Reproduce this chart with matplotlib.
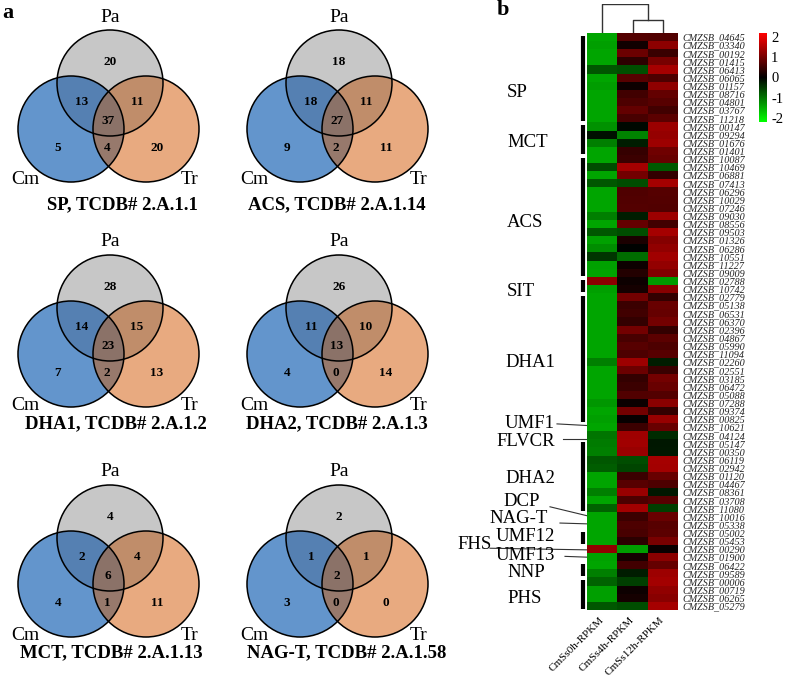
import numpy as np
import matplotlib.pyplot as plt
from matplotlib.colors import LinearSegmentedColormap, to_rgba
from matplotlib.patches import Circle
from matplotlib.transforms import blended_transform_factory

plt.rcParams['font.family'] = ['Liberation Serif', 'DejaVu Serif']
plt.rcParams['axes.unicode_minus'] = False

## panel a : venn counts
venn_titles = ['SP, TCDB# 2.A.1.1', 'ACS, TCDB# 2.A.1.14',
               'DHA1, TCDB# 2.A.1.2', 'DHA2, TCDB# 2.A.1.3',
               'MCT, TCDB# 2.A.1.13', 'NAG-T, TCDB# 2.A.1.58']
# order : Pa only, Cm&Pa, Pa&Tr, all three, Cm only, Cm&Tr, Tr only
venn_counts = [[20, 13, 11, 37, 5, 4, 20],
               [18, 18, 11, 27, 9, 2, 11],
               [28, 14, 15, 23, 7, 2, 13],
               [26, 11, 10, 13, 4, 0, 14],
               [4, 2, 4, 6, 4, 1, 11],
               [2, 1, 1, 2, 3, 0, 0]]
venn_sets = ['Pa', 'Cm', 'Tr']

## panel b : heatmap (row z-scores)
genes = ['04645', '03340', '00192', '01415', '06413', '06065', '01157', '08716',
         '04801', '03767', '11218', '00147', '09294', '01676', '01401', '10087',
         '10469', '06881', '07413', '06296', '10029', '07246', '09030', '08556',
         '09503', '01326', '06286', '10551', '11227', '09009', '02788', '10742',
         '02779', '05138', '06531', '06370', '02396', '04867', '05990', '11094',
         '02260', '02551', '03185', '06472', '05088', '07288', '09374', '00825',
         '10621', '04124', '05147', '00350', '06119', '02942', '01120', '04467',
         '08361', '03708', '11080', '10016', '05338', '05002', '05453', '00290',
         '01900', '06422', '09589', '00006', '00719', '06265', '05279']
gene_labels = ['CMZSB_' + g for g in genes]
rpkm_cols = ['CmSs0h-RPKM', 'CmSs4h-RPKM', 'CmSs12h-RPKM']
z_0h = [-1.41, -1.36, -1.41, -1.41, -0.73, -1.41, -1.35, -1.41, -1.41, -1.41, -1.41,
        -1.25, -0.15, -1.10, -1.41, -1.41, -0.65, -1.41, -0.74, -1.41, -1.41, -1.41,
        -1.10, -1.41, -0.75, -1.39, -1.22, -0.45, -1.38, -1.40, 1.22, -1.36,
        -1.41, -1.41, -1.41, -1.41, -1.41, -1.41, -1.41, -1.41, -1.10, -1.41, -1.41,
        -1.41, -1.41, -1.30, -1.41, -1.36, -1.41, -1.00, -1.05, -1.10, -0.74, -0.80,
        -1.41, -1.41, -1.10, -1.41, -0.85, -1.41, -1.41, -1.41, -1.41, 1.25, -1.38,
        -1.41, -1.10, -0.85, -1.36, -1.36, -0.74]
z_4h = [0.72, 0.15, 0.92, 0.38, -0.68, 0.74, 0.12, 0.56, 0.66, 0.85, 0.62,
        -0.08, -1.13, -0.25, 0.45, 0.50, 1.41, 0.98, -0.67, 0.68, 0.69, 0.72,
        -0.25, 0.86, -0.66, 0.24, -0.02, -0.94, 0.12, 0.30, 0.12, 0.18,
        0.98, 0.50, 0.55, 0.43, 0.98, 0.62, 0.74, 0.67, 1.35, 0.92, 0.43,
        0.50, 0.70, 0.10, 0.98, 0.06, 0.50, 1.37, 1.38, 1.32, -0.67, -0.60,
        0.50, 0.74, 1.32, 0.67, 1.40, 0.50, 0.67, 0.62, 0.37, -1.35, 0.18,
        0.55, -0.25, -0.55, 0.12, 0.18, -0.67]
z_12h = [0.69, 1.21, 0.49, 1.03, 1.41, 0.67, 1.23, 0.85, 0.75, 0.56, 0.79,
         1.33, 1.28, 1.35, 0.96, 0.91, -0.76, 0.43, 1.41, 0.73, 0.72, 0.69,
         1.35, 0.55, 1.41, 1.15, 1.24, 1.39, 1.26, 1.10, -1.34, 1.18,
         0.43, 0.91, 0.86, 0.98, 0.43, 0.79, 0.67, 0.74, -0.25, 0.49, 0.98,
         0.91, 0.71, 1.20, 0.43, 1.30, 0.91, -0.37, -0.20, -0.22, 1.41, 1.40,
         0.91, 0.67, -0.22, 0.74, -0.55, 0.91, 0.74, 0.79, 1.04, 0.10, 1.20,
         0.86, 1.35, 1.40, 1.24, 1.18, 1.41]
# column clustering: (col1, col2) joined first, then col0
link_low = 0.45
link_root = 1.0

bar_groups = ['SP', 'MCT', 'ACS', 'SIT', 'DHA1', 'DHA2', 'UMF12', 'NNP', 'PHS']
bar_first = [0, 11, 15, 30, 32, 50, 61, 65, 67]
bar_last = [10, 14, 29, 31, 47, 58, 62, 66, 70]
single_groups = ['UMF1', 'FLVCR', 'DCP', 'NAG-T', 'FHS', 'UMF13']
single_rows = [48, 49, 59, 60, 63, 64]

W, H = 787, 677
fig = plt.figure(figsize=(W / 100, H / 100), dpi=100)
fig.patch.set_facecolor('white')

# overlay axis in pixel units
ov = fig.add_axes([0, 0, 1, 1])
ov.axis('off')

region_colors = {1: '#c8c8c8', 2: '#6496cc', 4: '#e9aa80',
                 3: '#5580b2', 5: '#c08d6a', 6: '#98796c', 7: '#8b7268'}

def draw_venn(ox, oy, counts, title, tx, ty):
    cx = np.array([110, 71, 146]) + ox      # Pa, Cm, Tr
    cy = np.array([83, 129, 129]) + oy
    r = 53
    step = 0.25
    xs = np.arange(cx.min() - r - 2, cx.max() + r + 2, step)
    ys = np.arange(cy.min() - r - 2, cy.max() + r + 2, step)
    X, Y = np.meshgrid(xs + step / 2, ys + step / 2)
    code = np.zeros(X.shape, dtype=int)
    for i, bit in enumerate([1, 2, 4]):
        code += bit * (((X - cx[i]) ** 2 + (Y - cy[i]) ** 2) <= r ** 2)
    img = np.zeros(X.shape + (4,))
    for k, c in region_colors.items():
        img[code == k] = to_rgba(c)
    ov.imshow(img, extent=(xs[0], xs[-1] + step, ys[-1] + step, ys[0]),
              aspect='auto', interpolation='antialiased', zorder=1)
    for i in range(3):
        ov.add_patch(Circle((cx[i], cy[i]), r, fill=False, ec='black', lw=1.1, zorder=2))
    num_xy = [(110, 62), (82, 102), (137, 102), (108, 121), (58, 148), (107, 148), (157, 148)]
    for (nx, ny), n in zip(num_xy, counts):
        ov.text(nx + ox, ny + oy, str(n), ha='center', va='center',
                fontsize=9.5, fontweight='bold', zorder=3)
    lab_xy = [(110, 17), (25, 180), (190, 180)]
    for (lx, ly), s in zip(lab_xy, venn_sets):
        ov.text(lx + ox, ly + oy, s, ha='center', va='center', fontsize=14, zorder=3)
    ov.text(tx, ty, title, ha='center', va='center', fontsize=13.5, fontweight='bold')

venn_dx = [0, 229]
venn_dy = [0, 225, 455]
title_x = [122, 337, 116, 337, 111, 347]
title_y = [205, 424, 653]
for k in range(6):
    row, col = divmod(k, 2)
    draw_venn(venn_dx[col], venn_dy[row], venn_counts[k], venn_titles[k],
              title_x[k], title_y[row])

ov.text(8, 13, 'a', fontsize=16, fontweight='bold', ha='center', va='center')
ov.text(503, 10, 'b', fontsize=16, fontweight='bold', ha='center', va='center')

# heatmap
gkr = LinearSegmentedColormap.from_list('gkr', ['#00ff00', '#000000', '#ff0000'])
vals = np.column_stack([z_0h, z_4h, z_12h])
hm = fig.add_axes([587 / W, 1 - 610 / H, 91 / W, 577 / H])
im = hm.imshow(vals, cmap=gkr, vmin=-2.2, vmax=2.2, aspect='auto', interpolation='nearest')
hm.yaxis.tick_right()
hm.set_yticks(range(len(gene_labels)))
hm.set_yticklabels(gene_labels, fontsize=7.3, style='italic', color='#222222')
hm.set_xticks(range(len(rpkm_cols)))
hm.set_xticklabels(rpkm_cols, rotation=45, ha='right', va='center', rotation_mode='anchor',
                   fontsize=8)
hm.tick_params(axis='y', length=0, pad=3)
hm.tick_params(axis='x', length=0, pad=6)
for sp in hm.spines.values():
    sp.set_visible(False)

# dendrogram
dn = fig.add_axes([587 / W, 1 - 33 / H, 91 / W, 29 / H])
dn.plot([1, 1, 2, 2], [0, link_low, link_low, 0], color='#333333', lw=1)
dn.plot([0, 0, 1.5, 1.5], [0, link_root, link_root, link_low], color='#333333', lw=1)
dn.set_xlim(-0.5, 2.5)
dn.set_ylim(0, 1.0)
dn.axis('off')

# colour key
cax = fig.add_axes([759 / W, 1 - 122 / H, 8 / W, 89 / H])
cb = fig.colorbar(im, cax=cax, ticks=[2, 1, 0, -1, -2])
cb.outline.set_visible(False)
cax.tick_params(length=0, labelsize=10.5, pad=3)

# group annotations
tr = blended_transform_factory(ov.transData, hm.transData)
for s, e in zip(bar_first, bar_last):
    ov.plot([583, 583], [s - 0.15, e + 0.35], transform=tr, color='black', lw=3,
            solid_capstyle='butt', clip_on=False)

bar_lab_x = [507, 507, 507, 507, 505, 505, 555, 507, 507]
bar_lab_ha = ['left'] * 6 + ['right', 'left', 'left']
bar_lab_row = [6.8, 13.0, 22.8, 31.25, 40.0, 54.3, 61.5, 65.9, 69.1]
for name, x, ha, y in zip(bar_groups, bar_lab_x, bar_lab_ha, bar_lab_row):
    ov.text(x, y, name, transform=tr, fontsize=13.5, ha=ha, va='center')

single_lab = [(555, 47.6, 'right'), (555, 49.8, 'right'), (540, 57.1, 'right'),
              (548, 59.3, 'right'), (457, 62.5, 'left'), (555, 63.85, 'right')]
single_line = [((557, 47.6), (587, 47.8)), ((563, 49.4), (586, 49.4)),
               ((550, 57.8), (587, 58.9)), ((560, 59.8), (587, 59.9)),
               ((490, 62.9), (587, 63.1)), ((565, 63.9), (587, 64.0))]
for name, r, (x, y, ha), (p0, p1) in zip(single_groups, single_rows, single_lab, single_line):
    ov.text(x, y, name, transform=tr, fontsize=13.5, ha=ha, va='center')
    ov.plot([p0[0], p1[0]], [p0[1], p1[1]], transform=tr, color='#333333', lw=0.8,
            clip_on=False)

ov.set_xlim(0, W)
ov.set_ylim(H, 0)

plt.savefig('out.png', dpi=100)
